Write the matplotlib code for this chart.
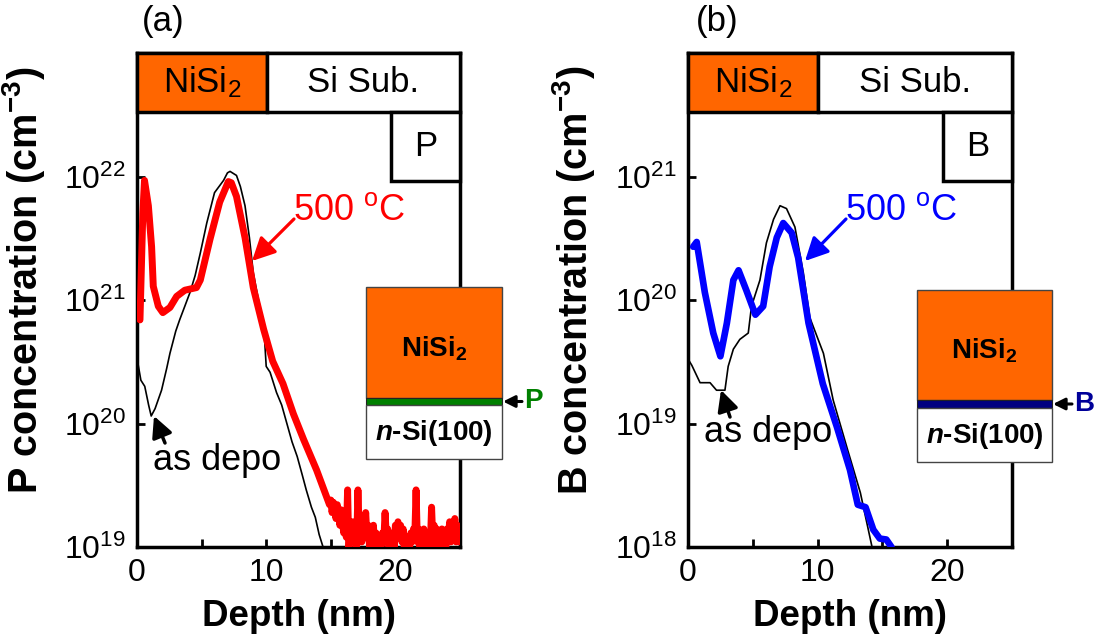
import matplotlib
matplotlib.use('Agg')
import matplotlib.pyplot as plt
from matplotlib.patches import Rectangle, FancyArrowPatch

plt.rcParams['font.family'] = ['Liberation Sans', 'DejaVu Sans']
plt.rcParams['mathtext.fontset'] = 'custom'
plt.rcParams['mathtext.rm'] = 'Liberation Sans'
plt.rcParams['mathtext.it'] = 'Liberation Sans:italic:bold'
plt.rcParams['mathtext.bf'] = 'Liberation Sans:bold'
plt.rcParams['mathtext.default'] = 'regular'

# ---------------- data ----------------
# Panel (a): P profile, 500 C anneal (red)
p500_depth = [0.23, 0.45, 0.58, 0.88, 1.13, 1.26, 1.65, 2.0, 2.55, 3.07, 3.7, 4.6, 4.9,
              5.65, 6.4, 7.07, 7.3, 7.7, 8.36, 9.0, 9.8, 10.5, 11.3, 12.1, 12.9, 13.9,
              14.7,
              14.9, 15.0, 15.1, 15.2, 15.3, 15.4, 15.5, 15.6, 15.7, 15.8, 15.9,
              16.0, 16.1, 16.2, 16.3, 16.4, 16.5, 16.6, 16.7, 16.8, 16.9,
              17.0, 17.1, 17.2, 17.3, 17.4, 17.5, 17.6, 17.7, 17.8, 17.9,
              18.0, 18.1, 18.2, 18.3, 18.4, 18.5, 18.6, 18.7, 18.8, 18.9,
              19.0, 19.1, 19.2, 19.3, 19.4, 19.5, 19.6, 19.7, 19.8, 19.9,
              20.0, 20.1, 20.2, 20.3, 20.4, 20.5, 20.6, 20.7, 20.8, 20.9,
              21.0, 21.1, 21.2, 21.3, 21.4, 21.5, 21.6, 21.7, 21.8, 21.9,
              22.0, 22.1, 22.2, 22.3, 22.4, 22.5, 22.6, 22.7, 22.8, 22.9,
              23.0, 23.1, 23.2, 23.3, 23.4, 23.5, 23.6, 23.7, 23.8, 23.9,
              24.0, 24.1, 24.2, 24.3, 24.4, 24.5, 24.6, 24.7, 24.8, 24.9, 25.0]
p500_conc = [6.9e20, 5.0e21, 9.3e21, 5.8e21, 2.7e21, 1.29e21, 8.9e20, 7.9e20, 8.7e20,
             1.07e21, 1.2e21, 1.26e21, 1.45e21, 3.1e21, 6.2e21, 9.1e21, 8.9e21, 6.9e21,
             3.2e21, 1.26e21, 5.8e20, 3.2e20, 2.1e20, 1.2e20, 7.4e19, 4.2e19, 2.5e19,
             2.2e19, 2.4e19, 1.9e19, 2.3e19, 2.1e19, 1.7e19, 2.2e19, 1.9e19, 1.5e19, 2.0e19, 1.6e19,
             1.3e19, 1.8e19, 1.2e19, 2.9e19, 0.9e19, 1.5e19, 1.2e19, 1.6e19, 1.1e19, 1.4e19,
             1.0e19, 2.9e19, 1.3e19, 1.6e19, 1.1e19, 1.8e19, 1.3e19, 1.9e19, 1.2e19, 1.5e19,
             1.0e19, 1.4e19, 1.2e19, 1.5e19, 0.9e19, 1.3e19, 0.8e19, 1.1e19, 0.8e19, 1.0e19,
             1.3e19, 1.1e19, 1.9e19, 1.2e19, 1.4e19, 0.9e19, 1.2e19, 0.9e19, 1.3e19, 1.0e19,
             1.5e19, 1.2e19, 1.6e19, 1.3e19, 1.5e19, 1.1e19, 1.4e19, 0.9e19, 1.1e19, 0.9e19,
             1.2e19, 1.0e19, 1.3e19, 1.1e19, 1.4e19, 1.2e19, 2.9e19, 1.1e19, 1.4e19, 1.0e19,
             1.3e19, 1.1e19, 1.4e19, 1.0e19, 1.3e19, 1.1e19, 1.3e19, 1.0e19, 2.1e19, 1.1e19,
             1.5e19, 1.0e19, 1.4e19, 1.1e19, 1.3e19, 1.0e19, 1.4e19, 1.1e19, 1.3e19, 1.0e19,
             1.4e19, 1.2e19, 1.6e19, 1.1e19, 1.4e19, 1.2e19, 1.7e19, 1.1e19, 1.5e19, 1.1e19, 1.4e19]

# Panel (a): P profile, as deposited (black)
pdep_depth = [0.1, 0.3, 0.6, 0.9, 1.1, 1.4, 1.9, 2.3, 2.55, 3.0, 3.3, 3.7, 4.1, 4.5, 4.9,
              5.4, 6.0, 6.7, 7.0, 7.2, 7.7, 8.0, 8.36, 8.7, 9.0, 9.4, 9.8, 10.0, 10.3,
              10.8, 11.2, 11.6, 12.0, 12.4, 12.8, 13.1, 13.5, 13.8, 14.1, 14.4, 14.7]
pdep_conc = [2.95e20, 2.24e20, 2.0e20, 1.41e20, 1.15e20, 1.32e20, 1.86e20, 2.8e20,
             3.7e20, 5.6e20, 6.9e20, 8.9e20, 1.15e21, 1.58e21, 2.4e21, 4.2e21, 7.4e21,
             9.3e21, 1.07e22, 1.1e22, 1.02e22, 8.3e21, 5.8e21, 3.2e21, 1.66e21, 1.0e21,
             6.5e20, 2.9e20, 2.6e20, 1.78e20, 1.41e20, 1.0e20, 7.1e19, 5.4e19, 3.8e19,
             2.9e19, 2.1e19, 1.74e19, 1.26e19, 1.0e19, 7.1e18]

# Panel (b): B profile, 500 C anneal (blue)
b500_depth = [0.4, 0.67, 1.3, 1.95, 2.5, 3.0, 3.5, 3.9, 4.5, 5.2, 5.8, 6.3, 6.85, 7.35,
              8.0, 8.5, 9.3, 10.4, 11.5, 12.5, 13.1, 13.7, 14.3, 14.8, 15.3, 15.7]
b500_conc = [2.7e20, 2.95e20, 1.15e20, 5.4e19, 3.5e19, 6.5e19, 1.45e20, 1.74e20,
             1.2e20, 7.6e19, 8.9e19, 1.86e20, 3.2e20, 4.2e20, 3.5e20, 2.2e20, 6.5e19,
             2.1e19, 9.3e18, 4.2e18, 2.2e18, 2.1e18, 1.38e18, 1.17e18, 1.15e18, 1.0e18]

# Panel (b): B profile, as deposited (black)
bdep_depth = [0.1, 0.3, 0.93, 1.7, 2.2, 2.85, 3.1, 3.5, 4.0, 4.65, 4.9, 5.55, 6.05, 6.6,
              7.1, 7.6, 8.25, 8.9, 9.4, 10.45, 11.2, 12.3, 13.3, 14.2]
bdep_conc = [3.2e19, 2.95e19, 2.14e19, 2.14e19, 1.86e19, 1.86e19, 2.9e19, 4.0e19,
             4.8e19, 5.4e19, 8.9e19, 1.45e20, 2.9e20, 4.5e20, 5.8e20, 5.5e20, 3.9e20,
             1.66e20, 7.2e19, 3.7e19, 1.55e19, 6.2e18, 2.75e18, 1.0e18]

x_ticks = [0, 10, 20]
x_minor = [5, 15]
yticks_a = [1e19, 1e20, 1e21, 1e22]
yticks_b = [1e18, 1e19, 1e20, 1e21]

# ---------------- figure ----------------
W, H = 1094, 636
fig = plt.figure(figsize=(W / 100, H / 100), dpi=100)
fig.patch.set_facecolor('white')


def fx(px):
    return px / W


def fy(py):
    return 1 - py / H


ORANGE = '#FF6600'
axA = fig.add_axes([fx(137), fy(547), (460 - 137) / W, (547 - 53) / H])
axB = fig.add_axes([fx(688), fy(547), (1012 - 688) / W, (547 - 53) / H])

axA.semilogy(pdep_depth, pdep_conc, color='black', lw=1.2, zorder=2)
axA.semilogy(p500_depth, p500_conc, color='#FF0000', lw=5, zorder=3,
             solid_joinstyle='round', solid_capstyle='round')
axB.semilogy(bdep_depth, bdep_conc, color='black', lw=1.2, zorder=2)
axB.semilogy(b500_depth, b500_conc, color='#0000FF', lw=4.8, zorder=3,
             solid_joinstyle='round', solid_capstyle='round')

axA.set_ylim(1e19, 1e23)
axB.set_ylim(1e18, 1e22)
axA.set_yticks(yticks_a)
axB.set_yticks(yticks_b)

for ax, elem in ((axA, 'P'), (axB, 'B')):
    ax.set_xlim(0, 25)
    ax.set_xticks(x_ticks)
    ax.set_xticks(x_minor, minor=True)
    ax.yaxis.set_minor_locator(matplotlib.ticker.NullLocator())
    ax.tick_params(which='both', direction='in', length=6, width=2,
                   labelsize=23, pad=8, top=False, right=False)
    for s in ax.spines.values():
        s.set_linewidth(2.5)
    ax.set_xlabel('Depth (nm)', fontsize=26.5, fontweight='bold')
    ax.set_ylabel(elem + ' concentration (cm$^{-3}$)', fontsize=28.5, fontweight='bold')
    ax.xaxis.set_label_coords(0.5, -0.105)
    ax.yaxis.set_label_coords(-0.28, 0.54)
    # header boxes
    hb = 0.8806
    ax.add_patch(Rectangle((0, hb), 0.402, 1 - hb, transform=ax.transAxes,
                           facecolor=ORANGE, edgecolor='black', lw=2.5,
                           zorder=10, clip_on=False))
    ax.add_patch(Rectangle((0.402, hb), 1 - 0.402, 1 - hb, transform=ax.transAxes,
                           facecolor='white', edgecolor='black', lw=2.5,
                           zorder=10, clip_on=False))
    ax.add_patch(Rectangle((0.787, 0.741), 1 - 0.787, hb - 0.741,
                           transform=ax.transAxes, facecolor='white',
                           edgecolor='black', lw=2.5, zorder=10, clip_on=False))
    ax.text(0.201, (hb + 1) / 2, 'NiSi$_2$', transform=ax.transAxes, fontsize=25,
            ha='center', va='center', zorder=11)
    ax.text(0.701, (hb + 1) / 2, 'Si Sub.', transform=ax.transAxes, fontsize=25,
            ha='center', va='center', zorder=11)
    ax.text((0.787 + 1) / 2, (hb + 0.741) / 2, elem, transform=ax.transAxes,
            fontsize=25, ha='center', va='center', zorder=11)

# panel letters
fig.text(fx(163), fy(22), '(a)', fontsize=25, ha='center', va='center')
fig.text(fx(717), fy(22), '(b)', fontsize=25, ha='center', va='center')


def arrow(p0, p1, color, lw=2.3, ms=20):
    a = FancyArrowPatch((fx(p0[0]), fy(p0[1])), (fx(p1[0]), fy(p1[1])),
                        transform=fig.transFigure,
                        arrowstyle='-|>,head_length=0.7,head_width=0.35',
                        mutation_scale=ms, color=color, lw=lw, zorder=20,
                        shrinkA=0, shrinkB=0)
    fig.add_artist(a)


# annotations panel (a)
fig.text(fx(349), fy(211), '500 $^{o}$C', color='#FF0000', fontsize=26,
         ha='center', va='center')
arrow((294, 219), (252, 261), '#FF0000')
fig.text(fx(217), fy(460), 'as depo', color='black', fontsize=26,
         ha='center', va='center')
arrow((165, 443), (154, 416), 'black', lw=2.5, ms=18)

# annotations panel (b)
fig.text(fx(901), fy(211), '500 $^{o}$C', color='#0000FF', fontsize=26,
         ha='center', va='center')
arrow((846, 219), (805, 261), '#0000FF')
fig.text(fx(768), fy(433), 'as depo', color='black', fontsize=26,
         ha='center', va='center')
arrow((730, 417), (721, 390), 'black', lw=2.5, ms=18)


# insets
def inset(x0, x1, ytop, yb1, yb2, ybot, band_color, label, label_color):
    fig.add_artist(Rectangle((fx(x0), fy(yb1)), fx(x1) - fx(x0), fy(ytop) - fy(yb1),
                             transform=fig.transFigure, facecolor=ORANGE,
                             edgecolor='#444444', lw=1, zorder=15))
    fig.add_artist(Rectangle((fx(x0), fy(yb2)), fx(x1) - fx(x0), fy(yb1) - fy(yb2),
                             transform=fig.transFigure, facecolor=band_color,
                             edgecolor='#222222', lw=0.8, zorder=15))
    fig.add_artist(Rectangle((fx(x0), fy(ybot)), fx(x1) - fx(x0), fy(yb2) - fy(ybot),
                             transform=fig.transFigure, facecolor='white',
                             edgecolor='#444444', lw=1, zorder=15))
    xc = (x0 + x1) / 2
    fig.text(fx(xc), fy((ytop + yb1) / 2 + 6), 'NiSi$_2$', fontsize=20,
             fontweight='bold', ha='center', va='center', zorder=16)
    fig.text(fx(xc), fy((yb2 + ybot) / 2 + 1), r'$\mathit{n}$-Si(100)', fontsize=20,
             fontweight='bold', ha='center', va='center', zorder=16)
    ym = (yb1 + yb2) / 2
    arrow((x1 + 20, ym), (x1 + 1, ym), 'black', lw=2.2, ms=10)
    fig.text(fx(x1 + 22), fy(ym), label, fontsize=20, fontweight='bold',
             color=label_color, ha='left', va='center', zorder=16)


inset(366, 502, 287, 398, 405, 459, '#008000', 'P', '#008000')
inset(917, 1052, 290, 400, 408, 462, '#000080', 'B', '#000099')

fig.savefig('out.png', dpi=100)
